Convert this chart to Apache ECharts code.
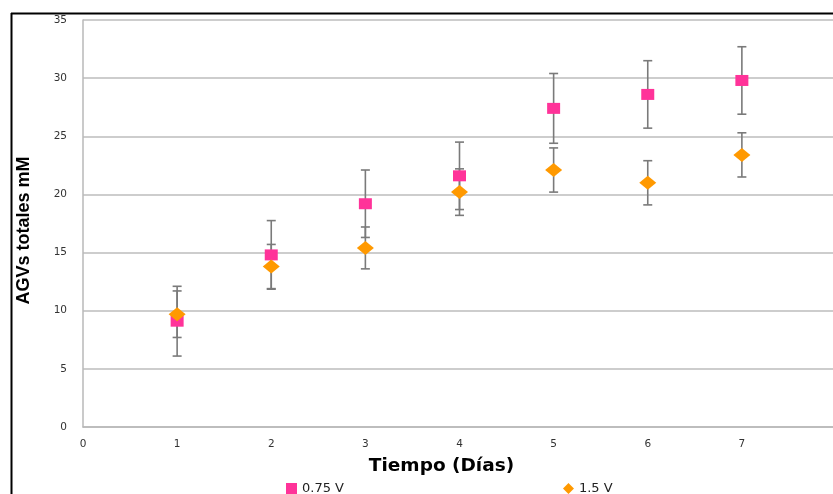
<!DOCTYPE html>
<html><head><meta charset="utf-8">
<script src="https://cdn.jsdelivr.net/npm/echarts@6/dist/echarts.min.js"></script>
<style>html,body{margin:0;padding:0;background:#fff}#c{width:833px;height:494px}</style>
</head><body><div id="c"></div>
<script>
const days = [1, 2, 3, 4, 5, 6, 7];
const v075 = [9.1, 14.8, 19.2, 21.6, 27.4, 28.6, 29.8];
const v075err = [3.0, 2.95, 2.9, 2.9, 3.0, 2.9, 2.9];
const v15 = [9.7, 13.8, 15.4, 20.2, 22.1, 21.0, 23.4];
const v15err = [2.0, 1.9, 1.8, 2.0, 1.9, 1.9, 1.9];
const yTicks = [0, 5, 10, 15, 20, 25, 30, 35];
const xTicks = [0, 1, 2, 3, 4, 5, 6, 7, 8];
const names = ['0.75 V', '1.5 V'];

function errData(vals, errs) {
  return days.map((d, i) => [d, vals[i] - errs[i], vals[i] + errs[i]]);
}
function errSeries(vals, errs) {
  return {
    type: 'custom',
    data: errData(vals, errs),
    z: 1,
    silent: true,
    renderItem: function (params, api) {
      const x = api.value(0);
      const lo = api.coord([x, api.value(1)]);
      const hi = api.coord([x, api.value(2)]);
      const w = 4.5;
      const st = { stroke: '#7a7a7a', lineWidth: 1.6 };
      return {
        type: 'group',
        children: [
          { type: 'line', shape: { x1: hi[0], y1: hi[1], x2: lo[0], y2: lo[1] }, style: st },
          { type: 'line', shape: { x1: hi[0] - w, y1: hi[1], x2: hi[0] + w, y2: hi[1] }, style: st },
          { type: 'line', shape: { x1: lo[0] - w, y1: lo[1], x2: lo[0] + w, y2: lo[1] }, style: st }
        ]
      };
    }
  };
}

const chart = echarts.init(document.getElementById('c'), null, { renderer: 'canvas' });
chart.setOption({
  animation: false,
  backgroundColor: '#fff',
  graphic: [
    { type: 'line', shape: { x1: 11, y1: 13.5, x2: 833, y2: 13.5 }, style: { stroke: '#000', lineWidth: 2 }, z: 100 },
    { type: 'line', shape: { x1: 11.5, y1: 13, x2: 11.5, y2: 494 }, style: { stroke: '#000', lineWidth: 2 }, z: 100 }
  ],
  grid: { left: 83, top: 20, width: 753, height: 407, containLabel: false, outerBoundsMode: 'none', show: false },
  legend: {
    data: [
      { name: names[0], icon: 'rect' },
      { name: names[1], icon: 'diamond' }
    ],
    left: 281, top: 477, itemWidth: 11, itemHeight: 11, itemGap: 219,
    textStyle: { fontFamily: 'DejaVu Sans', fontSize: 13, color: '#222' }
  },
  xAxis: {
    type: 'value', min: 0, max: 8, interval: 1,
    name: 'Tiempo (Días)', nameLocation: 'middle', nameGap: 30,
    nameTextStyle: { fontFamily: 'DejaVu Sans', fontWeight: 'bold', fontSize: 18.5, color: '#000', padding: [0, 36, 0, 0] },
    axisLine: { show: true, lineStyle: { color: '#b8b8b8', width: 1.5 } },
    axisTick: { show: false },
    splitLine: { show: false },
    axisLabel: { fontFamily: 'DejaVu Sans', fontSize: 10.5, color: '#333', margin: 12,
      showMaxLabel: true, showMinLabel: true, hideOverlap: false,
      formatter: v => xTicks.includes(v) ? String(v) : '' }
  },
  yAxis: {
    type: 'value', min: 0, max: 35, interval: 5,
    name: 'AGVs totales mM', nameLocation: 'middle', nameGap: 50, nameRotate: 90,
    nameTextStyle: { fontFamily: 'Liberation Sans Narrow, Liberation Sans', fontWeight: 'bold', fontSize: 18, color: '#000', padding: [0, 14, 0, 0] },
    axisLine: { show: true, lineStyle: { color: '#b8b8b8', width: 1.5 } },
    axisTick: { show: false },
    splitLine: { show: true, lineStyle: { color: '#bdbdbd', width: 1.5 } },
    axisLabel: { fontFamily: 'DejaVu Sans', fontSize: 10.5, color: '#333', margin: 16,
      formatter: v => yTicks.includes(v) ? String(v) : '' }
  },
  series: [
    errSeries(v075, v075err),
    errSeries(v15, v15err),
    {
      name: names[0], type: 'scatter', z: 3,
      data: days.map((d, i) => [d, v075[i]]),
      symbol: 'rect', symbolSize: [13, 11],
      itemStyle: { color: '#ff3399', opacity: 1 }
    },
    {
      name: names[1], type: 'scatter', z: 4,
      data: days.map((d, i) => [d, v15[i]]),
      symbol: 'diamond', symbolSize: [17, 14],
      itemStyle: { color: '#ff9900', opacity: 1 }
    }
  ]
});
</script></body></html>
